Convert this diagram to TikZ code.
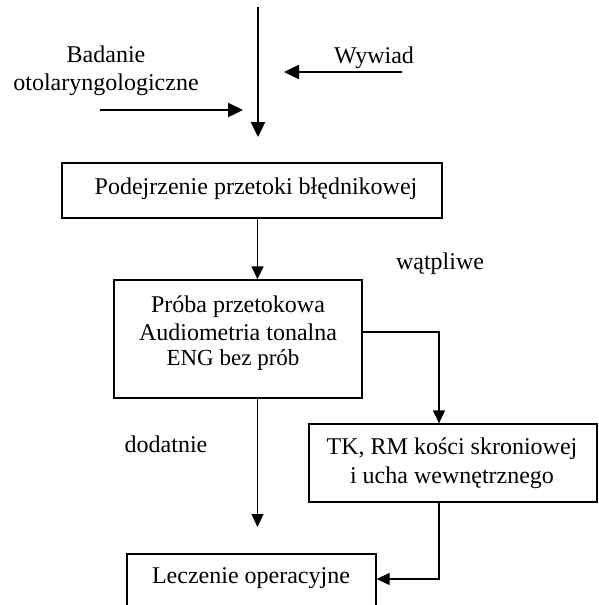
\documentclass[tikz,border=0pt]{standalone}
\usepackage{fontspec}
\setmainfont{Liberation Serif}
\usetikzlibrary{arrows.meta}
\begin{document}
\begin{tikzpicture}[x=1pt,y=-1pt,
  box/.style={draw, line width=1.3pt, rectangle, inner sep=0pt},
  txt/.style={inner sep=0pt, anchor=base, font=\fontsize{24}{28}\selectfont},
  smalltxt/.style={inner sep=0pt, anchor=base, font=\fontsize{23}{27}\selectfont},
  conn/.style={line width=1.2pt, -{Triangle[length=13pt,width=12pt]}},
  bigarrow/.style={line width=2.4pt, -{Triangle[length=15pt,width=14pt]}}
]
\clip (0,0) rectangle (599,605);
% boxes
\node[box, minimum width=380pt, minimum height=55pt] (b1) at (252,190.5) {};
\node[box, minimum width=248pt, minimum height=118pt] (b2) at (238,339) {};
\node[box, minimum width=288pt, minimum height=78pt] (b3) at (453,463) {};
\node[box, minimum width=249pt, minimum height=80pt] (b4) at (251.5,594) {};
% texts
\node[txt] (t1) at (256,194) {Podejrzenie przetoki błędnikowej};
\node[txt] (t2a) at (238,312) {Próba przetokowa};
\node[txt] (t2b) at (238,340) {Audiometria tonalna};
\node[smalltxt] (t2c) at (233,365) {ENG bez prób};
\node[txt] (t3a) at (452,454) {TK, RM kości skroniowej};
\node[txt] (t3b) at (452,483) {i ucha wewnętrznego};
\node[txt] (t4) at (251,583) {Leczenie operacyjne};
\node[txt] (l1a) at (106,62) {Badanie};
\node[txt] (l1b) at (106,90) {otolaryngologiczne};
\node[txt] (l2) at (374,63) {Wywiad};
\node[txt] (l3) at (440,269) {wątpliwe};
\node[txt] (l4) at (166,452) {dodatnie};
% helper coordinates
\coordinate (s0) at (258,7);
\coordinate (s1) at (258,137);
\coordinate (la) at (100,110);
\coordinate (lb) at (243,110);
\coordinate (ra) at (402,72);
\coordinate (rb) at (284,72);
\coordinate (v) at (257.5,0);
\coordinate (d1) at (257.5,527);
\coordinate (k) at (439,0);
\coordinate (m) at (0,332);
\coordinate (n) at (0,579);
% connectors
\draw[bigarrow] (s0) -- (s1);
\draw[bigarrow] (la) -- (lb);
\draw[bigarrow] (ra) -- (rb);
\draw[conn] (b1.south -| v) -- (b2.north -| v);
\draw[conn] (b2.south -| v) -- (d1);
\draw[conn] (b2.east |- m) -| (b3.north -| k);
\draw[conn] (b3.south -| k) |- (b4.east |- n);
\end{tikzpicture}
\end{document}
